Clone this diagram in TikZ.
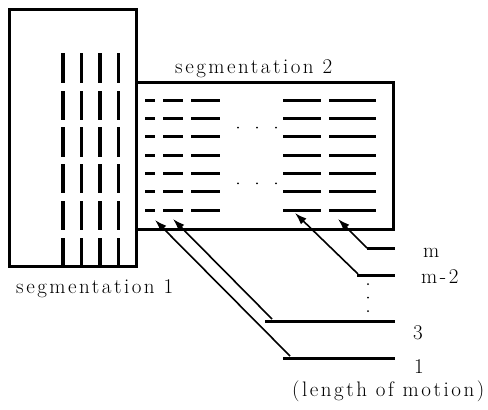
\documentclass[tikz,border=0pt]{standalone}
\usepackage{fontspec}
\newfontfamily\lblfont{Latin Modern Roman}[LetterSpace=12]
\usetikzlibrary{arrows.meta}
\begin{document}
\begin{tikzpicture}[x=1pt,y=-1pt,
  frame/.style={line width=3pt, line cap=rect},
  vdash/.style={line width=3.5pt},
  hdash/.style={line width=3pt},
  level/.style={line width=3pt},
  arr/.style={line width=1.6pt, -{Latex[length=12pt,width=8pt]}},
  dotmark/.style={circle, fill=black, inner sep=0pt, minimum size=2pt},
  lbl/.style={font=\lblfont\fontsize{21}{24}\selectfont, inner sep=0pt, anchor=base west}]
\useasboundingbox (0,0) rectangle (488,410);
% segmentation 1 frame
\coordinate (A1) at (9,9);
\coordinate (A2) at (136,266);
\draw[frame] (A1) rectangle (A2);
% segmentation 2 frame (open on the left)
\coordinate (B1) at (136,82);
\coordinate (B2) at (393,82);
\coordinate (B3) at (393,229);
\coordinate (B4) at (136,229);
\draw[frame] (B1) -- (B2) -- (B3) -- (B4);
% vertical dashes
\foreach \x/\w in {63/4,81.5/3,100/3.8,118/3}{
  \foreach \ya/\yb in {53/83,91/120,127/157,164/193,201/230,238/266}{
    \draw[line width=\w pt] (\x,\ya) -- (\x,\yb);
  }
}
% horizontal dashes
\foreach \y in {100,118.3,136.7,155,173.3,191.7,210.7}{
  \foreach \xa/\xb in {145/155,163/183,191/220,283/321,329/376}{
    \draw[hdash] (\xa,\y) -- (\xb,\y);
  }
}
% dots
\foreach \y in {127.5,183.3}{
  \foreach \x in {238,257,276}{
    \node[dotmark] at (\x,\y) {};
  }
}
% level lines
\coordinate (Lma) at (367,248);  \coordinate (Lmb) at (395,248);
\coordinate (Lm2a) at (357,275); \coordinate (Lm2b) at (395,275);
\coordinate (L3a) at (265,321);  \coordinate (L3b) at (395,321);
\coordinate (L1a) at (283,358);  \coordinate (L1b) at (395,358);
\draw[level] (Lma) -- (Lmb);
\draw[level] (Lm2a) -- (Lm2b);
\draw[level] (L3a) -- (L3b);
\draw[level] (L1a) -- (L1b);
% vertical dots
\foreach \y in {284,297.5,311}{
  \node[dotmark] at (368,\y) {};
}
% arrows
\coordinate (S1) at (290,356); \coordinate (T1) at (155,220);
\coordinate (S3) at (272,319); \coordinate (T3) at (173,219);
\coordinate (Sm2) at (358,274); \coordinate (Tm2) at (295,213);
\coordinate (Sm) at (367,248); \coordinate (Tm) at (338,219);
\draw[arr] (S1) -- (T1);
\draw[arr] (S3) -- (T3);
\draw[arr] (Sm2) -- (Tm2);
\draw[arr] (Sm) -- (Tm);
% labels
\node[lbl] (seg2) at (175,73) {segmentation 2};
\node[lbl] (seg1) at (16,293) {segmentation 1};
\node[lbl] (lm) at (423,257) {m};
\node[lbl] (lm2) at (421,283) {m-2};
\node[lbl] (l3) at (413,339) {3};
\node[lbl] (l1) at (414,373) {1};
\node[lbl] (lom) at (292,396) {(length of motion)};
\end{tikzpicture}
\end{document}
